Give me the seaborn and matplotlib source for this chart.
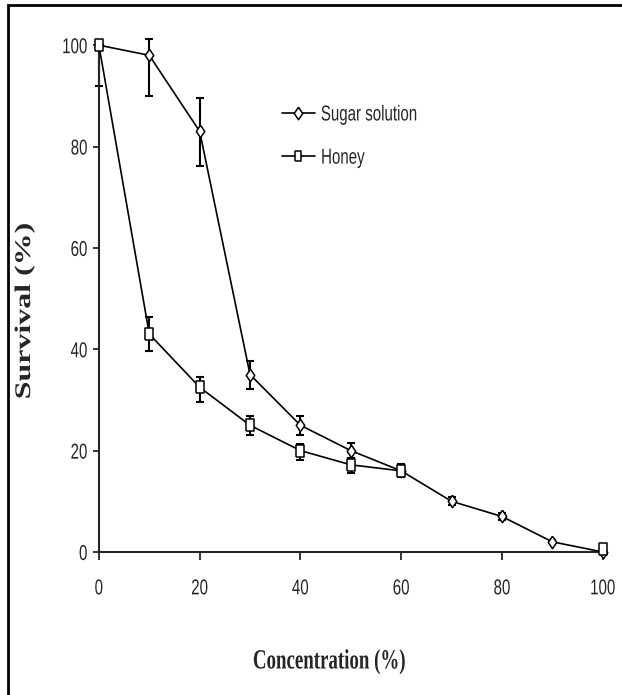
import numpy as np
import pandas as pd
import matplotlib
matplotlib.use("Agg")
import matplotlib.pyplot as plt
from matplotlib.lines import Line2D
from matplotlib.patches import Rectangle
from matplotlib.patheffects import AbstractPathEffect
from matplotlib.transforms import Affine2D
import seaborn as sns

# data
conc = [0, 10, 20, 30, 40, 50, 60, 70, 80, 90, 100]
sugar = [100, 98, 83, 35, 25, 20, 16, 10, 7, 2, 0]
sugar_lo = [0, 8, 6.8, 2.8, 2.0, 1.6, 1.0, 0.8, 0.6, 0.3, 0]
sugar_hi = [0, 3.2, 6.5, 2.6, 1.9, 1.5, 1.0, 0.8, 0.6, 0.3, 0]
honey_conc = [0, 10, 20, 30, 40, 50, 60, 100]
honey = [100, 43, 32.5, 25, 20, 17.2, 16, 0.5]
honey_lo = [8, 3.3, 3.0, 2.0, 1.8, 1.6, 1.3, 0]
honey_hi = [0, 3.3, 2.0, 1.9, 1.4, 1.4, 1.3, 0]
honey_seg = [0, 0, 0, 0, 0, 0, 0, 1]  # no line drawn from 60 to 100
labels = ["Sugar solution", "Honey"]


# the original picture is squeezed sideways, so squeeze the text the same way
class Squeeze(AbstractPathEffect):
    def __init__(self, sx=0.7, anchor="center"):
        super().__init__()
        self.sx = sx
        self.anchor = anchor

    def draw_path(self, renderer, gc, tpath, affine, rgbFace=None):
        bb = affine.transform_path(tpath).get_extents()
        x0 = {"left": bb.x0, "right": bb.x1}.get(self.anchor, (bb.x0 + bb.x1) / 2)
        sq = Affine2D().translate(-x0, 0).scale(self.sx, 1).translate(x0, 0)
        renderer.draw_path(gc, tpath, affine + sq, rgbFace)


sns.set_style("ticks")
sans = ["Liberation Sans", "DejaVu Sans"]
serif = ["Liberation Serif", "DejaVu Serif"]
plt.rcParams["font.family"] = sans

# narrow diamond and tall square, as in the picture
diamond = [(0, 1), (0.68, 0), (0, -1), (-0.68, 0), (0, 1)]
square = [(-0.67, -1), (0.67, -1), (0.67, 1), (-0.67, 1), (-0.67, -1)]

df = pd.concat([
    pd.DataFrame({"conc": conc, "surv": sugar, "series": labels[0], "seg": 0}),
    pd.DataFrame({"conc": honey_conc, "surv": honey, "series": labels[1], "seg": honey_seg}),
], ignore_index=True)
df["unit"] = df["series"] + df["seg"].astype(str)

fig = plt.figure(figsize=(6.22, 6.95), dpi=100)
ax = fig.add_axes([0.159, 0.2058, 0.81, 0.7292])

ax.errorbar(conc, sugar, yerr=[sugar_lo, sugar_hi], fmt="none", ecolor="black",
            elinewidth=1.5, capsize=3, capthick=1.5, zorder=2, clip_on=False)
ax.errorbar(honey_conc, honey, yerr=[honey_lo, honey_hi], fmt="none", ecolor="black",
            elinewidth=1.5, capsize=3, capthick=1.5, zorder=2, clip_on=False)

sns.lineplot(data=df, x="conc", y="surv", hue="series", style="series", units="unit",
             estimator=None, palette={labels[0]: "black", labels[1]: "black"},
             markers={labels[0]: diamond, labels[1]: square}, dashes=False,
             markersize=9, markerfacecolor="white", markeredgecolor="black",
             markeredgewidth=1.1, linewidth=1.2, legend=False, ax=ax, zorder=3)
for ln in ax.lines:
    ln.set_clip_on(False)

ax.set_xlim(0, 100)
ax.set_ylim(0, 100)
ax.set_xticks(range(0, 101, 20))
ax.set_yticks(range(0, 101, 20))
ax.tick_params(axis="both", labelsize=15.5, width=1.3, direction="out")
ax.tick_params(axis="x", length=6, pad=13)
ax.tick_params(axis="y", length=4, pad=4)
sns.despine(ax=ax)
for s in ("left", "bottom"):
    ax.spines[s].set_linewidth(1.5)
for t in ax.get_xticklabels():
    t.set_path_effects([Squeeze(0.7, "center")])
for t in ax.get_yticklabels():
    t.set_path_effects([Squeeze(0.7, "right")])

ax.set_xlabel("Concentration (%)", fontsize=20, fontweight="bold", family=serif, va="center",
              path_effects=[Squeeze(0.68)])
ax.xaxis.set_label_coords(0.457, -0.217)
ax.set_ylabel("Survival (%)", fontsize=23, fontweight="bold", family=serif, va="center",
              path_effects=[Squeeze(0.7)])
ax.yaxis.set_label_coords(-0.147, 0.476)

handles = [
    Line2D([], [], color="black", lw=1.2, marker=diamond, markersize=9,
           markerfacecolor="white", markeredgecolor="black", markeredgewidth=1.1),
    Line2D([], [], color="black", lw=1.2, marker=square, markersize=7.2,
           markerfacecolor="white", markeredgecolor="black", markeredgewidth=1.1),
]
leg = ax.legend(handles, labels, loc="upper left", bbox_to_anchor=(0.363, 0.883),
                frameon=False, fontsize=15.5, borderpad=0, borderaxespad=0,
                handlelength=1.55, handletextpad=0.25, labelspacing=1.03)
for t in leg.get_texts():
    t.set_path_effects([Squeeze(0.7, "left")])

fig.patches.append(Rectangle((8 / 622, -0.1), 1.2, 1 - 5 / 695 + 0.1,
                             transform=fig.transFigure, fill=False,
                             edgecolor="black", linewidth=2))

fig.savefig("out.png", dpi=100)
